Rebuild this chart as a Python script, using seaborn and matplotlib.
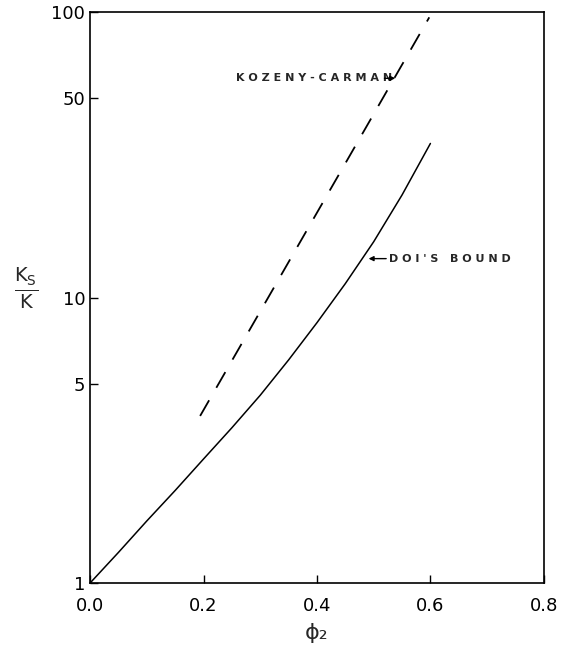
import numpy as np
import pandas as pd
import seaborn as sns
import matplotlib.pyplot as plt

# values
doi_phi = [0.0, 0.05, 0.1, 0.15, 0.2, 0.25, 0.3, 0.35, 0.4, 0.45, 0.5, 0.55, 0.6]
doi_ratio = [1.0, 1.28, 1.65, 2.11, 2.72, 3.50, 4.55, 6.05, 8.17, 11.2, 15.7, 22.9, 34.7]

kc_phi = [0.194, 0.598]
kc_ratio = [3.85, 96.0]

y_ticks = [1, 5, 10, 50, 100]
y_tick_labels = ["1", "5", "10", "50", "100"]
x_ticks = [0.0, 0.2, 0.4, 0.6, 0.8]
x_tick_labels = ["0.0", "0.2", "0.4", "0.6", "0.8"]


def main():
    sns.set_style("ticks")
    plt.rcParams["font.family"] = ["DejaVu Sans"]

    doi_df = pd.DataFrame({"phi": doi_phi, "ratio": doi_ratio})
    kc_df = pd.DataFrame({"phi": kc_phi, "ratio": kc_ratio})

    fig = plt.figure(figsize=(5.63, 6.46), dpi=100)
    ax = fig.add_axes([0.160, 0.0975, 0.806, 0.8835])

    sns.lineplot(data=doi_df, x="phi", y="ratio", ax=ax, color="black", lw=1.1)
    sns.lineplot(data=kc_df, x="phi", y="ratio", ax=ax, color="black", lw=1.3)
    ax.lines[-1].set_dashes([10, 8.0])

    ax.set_yscale("log")
    ax.set_xlim(0, 0.8)
    ax.set_ylim(1, 100)
    ax.set_yticks(y_ticks)
    ax.set_yticklabels(y_tick_labels)
    ax.set_xticks(x_ticks)
    ax.set_xticklabels(x_tick_labels)
    ax.yaxis.set_minor_locator(plt.NullLocator())
    ax.tick_params(direction="in", length=6, width=1, labelsize=13, colors="black")
    ax.tick_params(axis="x", pad=10)
    for s in ax.spines.values():
        s.set_linewidth(1.2)
        s.set_color("black")

    ax.set_xlabel("ϕ₂", fontsize=16, labelpad=6)
    ax.set_ylabel(r"$\frac{\mathrm{K_S}}{\mathrm{K}}$", fontsize=20, rotation=0,
                  va="center", ha="center")
    ax.yaxis.set_label_coords(-0.141, 0.517)

    # labels with their small arrows
    ax.text(0.257, 58.7, "K O Z E N Y - C A R M A N", fontsize=8,
            fontweight="bold", va="center", ha="left")
    ax.annotate("", xy=(0.538, 58.7), xytext=(0.519, 58.7),
                arrowprops=dict(arrowstyle="-|>", color="black", lw=1,
                                mutation_scale=7, shrinkA=0, shrinkB=0))
    ax.text(0.527, 13.7, "D O I ' S   B O U N D", fontsize=8,
            fontweight="bold", va="center", ha="left")
    ax.annotate("", xy=(0.491, 13.7), xytext=(0.522, 13.7),
                arrowprops=dict(arrowstyle="-|>", color="black", lw=1,
                                mutation_scale=7, shrinkA=0, shrinkB=0))

    plt.savefig("out.png", dpi=100)


if __name__ == "__main__":
    main()
